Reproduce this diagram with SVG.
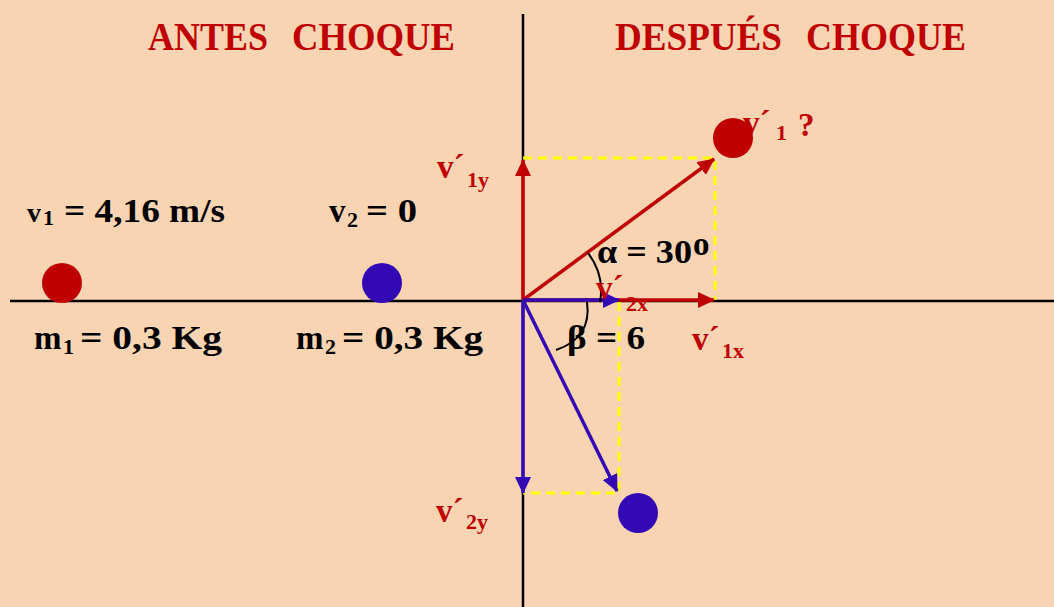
<svg xmlns="http://www.w3.org/2000/svg" width="1054" height="607" viewBox="0 0 1054 607">
<style>
.t{font-family:"Liberation Serif","Times New Roman",serif;font-weight:bold}
.title{font-size:40px;fill:#C00000}
.blk{font-size:33px;fill:#000}
.red{font-size:33px;fill:#C00000}
.sub{font-size:22px}
.axis{stroke:#000;stroke-width:2.5;fill:none}
.dash{stroke:#FFFF00;stroke-width:3;stroke-dasharray:9 6;fill:none}
.rv{stroke:#C00000;stroke-width:3.5;fill:none}
.bv{stroke:#3309B5;stroke-width:3.5;fill:none}
.arc{stroke:#000;stroke-width:2;fill:none}
</style>
<defs>
<marker id="ar" markerUnits="userSpaceOnUse" markerWidth="18" markerHeight="16" refX="16" refY="8" orient="auto"><path d="M0,0 L17,8 L0,16 Z" fill="#C00000"/></marker>
<marker id="ab" markerUnits="userSpaceOnUse" markerWidth="18" markerHeight="16" refX="16" refY="8" orient="auto"><path d="M0,0 L17,8 L0,16 Z" fill="#3309B5"/></marker>
</defs>
<rect width="1054" height="607" fill="#F9D4B3"/>
<g id="axes">
<line class="axis" x1="523" y1="14" x2="523" y2="607"/>
<line class="axis" x1="10" y1="301" x2="1054" y2="301"/>
</g>
<g id="titles">
<text class="t title" y="50"><tspan x="148" textLength="120" lengthAdjust="spacingAndGlyphs">ANTES</tspan><tspan x="292" textLength="163" lengthAdjust="spacingAndGlyphs">CHOQUE</tspan></text>
<text class="t title" y="50"><tspan x="615" textLength="167" lengthAdjust="spacingAndGlyphs">DESPUÉS</tspan><tspan x="806" textLength="160" lengthAdjust="spacingAndGlyphs">CHOQUE</tspan></text>
</g>
<g id="guides">
<path class="dash" d="M523,158 H715 V300"/>
<path class="dash" d="M619,302 V493 H523"/>
</g>
<g id="connectors">
<line class="rv" x1="523" y1="300" x2="523" y2="160" marker-end="url(#ar)"/>
<line class="rv" x1="523" y1="300" x2="714" y2="159" marker-end="url(#ar)"/>
<line class="rv" x1="523" y1="300" x2="714" y2="300" marker-end="url(#ar)"/>
<line class="bv" x1="523" y1="300" x2="619" y2="300" marker-end="url(#ab)"/>
<line class="bv" x1="523" y1="300" x2="523" y2="493" marker-end="url(#ab)"/>
<line class="bv" x1="523" y1="300" x2="617" y2="491" marker-end="url(#ab)"/>
<path class="arc" d="M588,253 Q605,275 600,302"/>
<path class="arc" d="M587,302 Q592,338 556,350"/>
</g>
<g id="ball1"><circle cx="62" cy="283" r="20" fill="#C00000"/></g>
<g id="ball2"><circle cx="382" cy="283" r="20" fill="#3309B5"/></g>
<g id="ball1after"><circle cx="733" cy="138" r="20" fill="#C00000"/></g>
<g id="ball2after"><circle cx="638" cy="513" r="20" fill="#3309B5"/></g>
<g id="labels">
<text class="t blk" x="27" y="222"><tspan font-size="28">v</tspan><tspan font-size="22" x="43" y="225">1</tspan><tspan x="64" y="222" textLength="161" lengthAdjust="spacingAndGlyphs">= 4,16 m/s</tspan></text>
<text class="t blk" x="329" y="222">v<tspan class="sub" x="347" y="227">2</tspan><tspan x="366" y="222" textLength="51" lengthAdjust="spacingAndGlyphs">= 0</tspan></text>
<text class="t blk" x="34" y="349">m<tspan class="sub" x="63" y="354">1</tspan><tspan x="80" y="349" textLength="142" lengthAdjust="spacingAndGlyphs">= 0,3 Kg</tspan></text>
<text class="t blk" x="296" y="349">m<tspan class="sub" x="325" y="354">2</tspan><tspan x="342" y="349" textLength="141" lengthAdjust="spacingAndGlyphs">= 0,3 Kg</tspan></text>
<text class="t blk" x="597" y="263" font-size="36" textLength="95" lengthAdjust="spacingAndGlyphs">α = 30</text>
<text class="t blk" x="693" y="255" font-size="26">o</text>
<text class="t blk" x="567" y="349" textLength="78" lengthAdjust="spacingAndGlyphs">β = 6</text>
<text class="t red" x="743" y="134">v´<tspan class="sub" x="776" y="140">1</tspan><tspan x="798" y="136">?</tspan></text>
<text class="t red" x="437" y="178">v´<tspan class="sub" x="467" y="187">1y</tspan></text>
<text class="t red" x="596" y="299">v´<tspan class="sub" x="626" y="311">2x</tspan></text>
<text class="t red" x="692" y="350">v´<tspan class="sub" x="722" y="358">1x</tspan></text>
<text class="t red" x="436" y="522">v´<tspan class="sub" x="466" y="529">2y</tspan></text>
</g>
</svg>
